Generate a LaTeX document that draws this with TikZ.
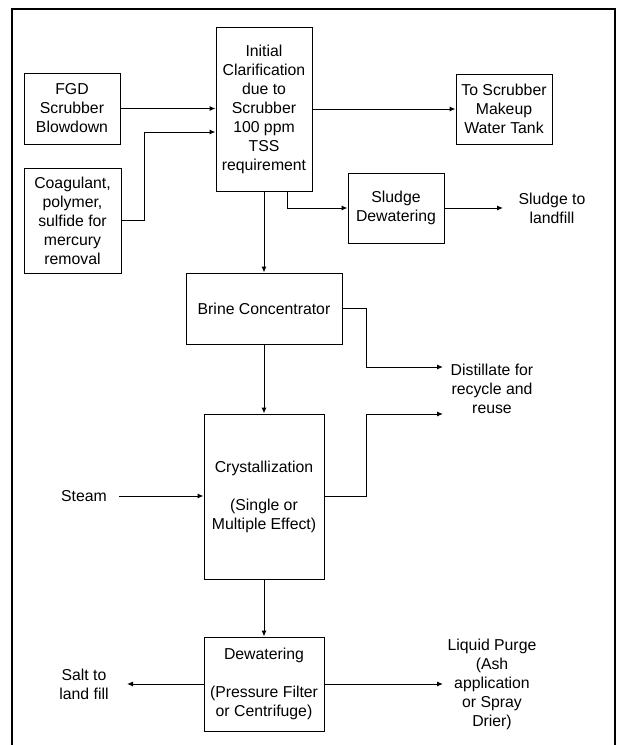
\documentclass[tikz,border=0pt]{standalone}
\usepackage{fontspec}
\setmainfont{Liberation Sans}
\usetikzlibrary{arrows.meta}
\begin{document}
\begin{tikzpicture}[x=1pt,y=-1pt,
  every node/.style={font=\fontsize{15.8}{19}\selectfont, align=center, inner sep=0pt},
  box/.style={draw, line width=1pt, minimum width=#1},
  lbl/.style={},
  arr/.style={line width=1pt, -{Latex[length=6pt,width=5pt]}},
  ln/.style={line width=1pt}]
\useasboundingbox (0,0) rectangle (618,745);
\fill[white] (0,0) rectangle (618,745);
\draw[line width=2pt] (11.5,746) -- (11.5,8.5) -- (614.5,8.5) -- (614.5,746);

\node[box=96pt, minimum height=164pt] (ic) at (264,109) {Initial\\Clarification\\due to\\Scrubber\\100 ppm\\TSS\\requirement};
\node[box=96pt, minimum height=71pt] (fgd) at (72,108.5) {FGD\\Scrubber\\Blowdown};
\node[box=97pt, minimum height=105pt] (coag) at (72.5,220.5) {Coagulant,\\polymer,\\sulfide for\\mercury\\removal};
\node[box=96pt, minimum height=70pt] (tos) at (504,109) {To Scrubber\\Makeup\\Water Tank};
\node[box=96pt, minimum height=70pt] (sludge) at (396,208) {Sludge\\Dewatering};
\node[lbl] (sludgetxt) at (552,208) {Sludge to\\landfill};
\node[box=156pt, minimum height=71pt] (brine) at (264,308.5) {Brine Concentrator};
\node[lbl] (distill) at (492,389) {Distillate for\\recycle and\\reuse};
\node[box=120pt, minimum height=165pt] (cryst) at (264,496.5) {Crystallization\\[19pt](Single or\\Multiple Effect)};
\node[lbl] (steam) at (84,496) {Steam};
\node[box=120pt, minimum height=94pt] (dew) at (264,684) {Dewatering\\[19pt](Pressure Filter\\or Centrifuge)};
\node[lbl] (salt) at (84,684) {Salt to\\land fill};
\node[lbl] (purge) at (492,684.5) {Liquid Purge\\(Ash\\application\\or Spray\\Drier)};

\coordinate (sludgeend) at (503,208);
\coordinate (dist1) at (443,367);
\coordinate (dist2) at (443,414);
\coordinate (steamstart) at (119,496);
\coordinate (saltend) at (127,684);
\coordinate (purgeend) at (443,684);

\draw[arr] (fgd.east) -- (fgd.east -| ic.west);
\draw[arr] (coag.east) -- (144,220.5) |- (ic.west |- 0,132);
\draw[arr] (ic.east |- tos.west) -- (tos.west);
\draw[arr] (ic.south -| 287,0) |- (sludge.west);
\draw[arr] (sludge.east) -- (sludgeend);
\draw[arr] (ic.south) -- (brine.north);
\draw[arr] (brine.east) -- (366,308.5) |- (dist1);
\draw[arr] (brine.south) -- (cryst.north);
\draw[arr] (cryst.east |- 0,496) -- (366.5,496) |- (dist2);
\draw[arr] (steamstart) -- (cryst.west |- steamstart);
\draw[arr] (cryst.south) -- (dew.north);
\draw[arr] (dew.west) -- (saltend);
\draw[arr] (dew.east) -- (purgeend);
\end{tikzpicture}
\end{document}
